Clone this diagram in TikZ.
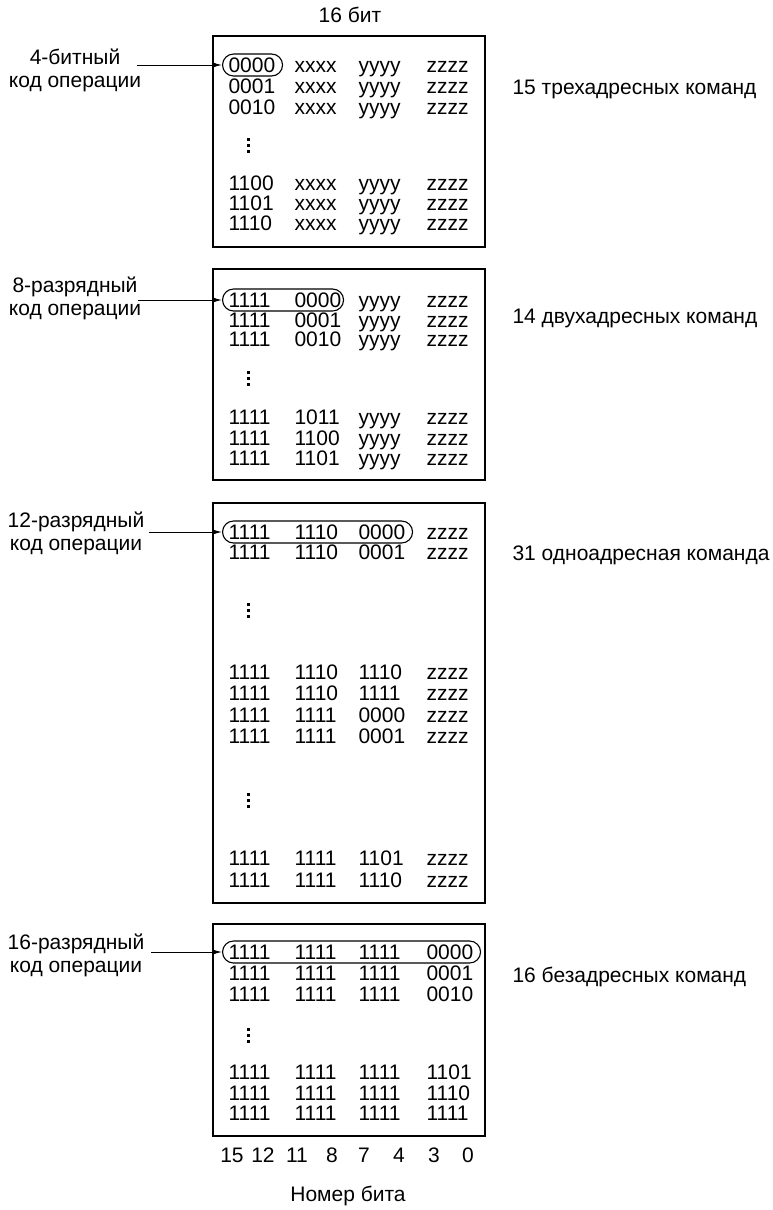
\documentclass[tikz,border=0pt]{standalone}
\usepackage{fontspec}
\setmainfont{Liberation Sans}
\usepackage{tikz}
\usetikzlibrary{arrows.meta}

\begin{document}
\begin{tikzpicture}[x=1pt,y=-1pt,line width=1.1pt,font=\fontsize{21}{23}\selectfont,
  cell/.style={anchor=base west,inner sep=0pt},
  opc/.style={draw,rounded corners=11pt,minimum height=22pt,inner sep=0pt,anchor=west},
  oplabel/.style={align=center,inner sep=0pt},
  cnt/.style={anchor=base west,inner sep=0pt},
  oparrow/.style={-{Latex[length=9pt,width=5pt]},line width=1pt}]
  \useasboundingbox (0,0) rectangle (773,1210);
  \node[anchor=base] (bits) at (350,22.5) {16 бит};
  \draw (213,36) rectangle (485,247);
  \draw (213,269) rectangle (485,480);
  \draw (213,503) rectangle (485,903);
  \draw (213,924) rectangle (485,1136);
  \foreach \y/\a/\b/\c/\d in {65/0000/xxxx/yyyy/zzzz,86/0001/xxxx/yyyy/zzzz,107/0010/xxxx/yyyy/zzzz,
      183/1100/xxxx/yyyy/zzzz,203/1101/xxxx/yyyy/zzzz,223/1110/xxxx/yyyy/zzzz,
      300/1111/0000/yyyy/zzzz,320/1111/0001/yyyy/zzzz,339/1111/0010/yyyy/zzzz,
      417/1111/1011/yyyy/zzzz,438/1111/1100/yyyy/zzzz,458/1111/1101/yyyy/zzzz,
      532/1111/1110/0000/zzzz,552/1111/1110/0001/zzzz,672/1111/1110/1110/zzzz,693/1111/1110/1111/zzzz,
      715/1111/1111/0000/zzzz,736/1111/1111/0001/zzzz,858/1111/1111/1101/zzzz,880/1111/1111/1110/zzzz,
      952/1111/1111/1111/0000,973/1111/1111/1111/0001,994/1111/1111/1111/0010,
      1072/1111/1111/1111/1101,1093/1111/1111/1111/1110,1113/1111/1111/1111/1111} {
    \node[cell] (r\y-1) at (228,\y+7.5) {\a};
    \node[cell] (r\y-2) at (294,\y+7.5) {\b};
    \node[cell] (r\y-3) at (358,\y+7.5) {\c};
    \node[cell] (r\y-4) at (426,\y+7.5) {\d};}
  \foreach \y in {145,378,610,800,1035} {
    \foreach \k in {-6,0,6} \fill (246.5,\y+\k-1.5) rectangle (249.5,\y+\k+1.5);}
  \node[opc,minimum width=60pt] (op1) at (222,65) {};
  \node[opc,minimum width=121pt] (op2) at (222,300) {};
  \node[opc,minimum width=190pt] (op3) at (222,532) {};
  \node[opc,minimum width=258pt] (op4) at (222,952) {};
  \node[oplabel] (lab1) at (75,70) {4-битный\\код операции};
  \node[oplabel] (lab2) at (75,298) {8-разрядный\\код операции};
  \node[oplabel] (lab3) at (76,533) {12-разрядный\\код операции};
  \node[oplabel] (lab4) at (76,955) {16-разрядный\\код операции};
  \coordinate (s1) at (137,65); \coordinate (s2) at (138,300);
  \coordinate (s3) at (149,532); \coordinate (s4) at (151,952);
  \foreach \i in {1,...,4} \draw[oparrow] (s\i) -- (op\i.west);
  \node[cnt] (n3) at (512,94.5) {15 трехадресных команд};
  \node[cnt] (n2) at (512,323.5) {14 двухадресных команд};
  \node[cnt] (n1) at (512,560.5) {31 одноадресная команда};
  \node[cnt] (n0) at (512,982.5) {16 безадресных команд};
  \foreach \x/\t in {232/15,263/12,297/11,332/8,364/7,399/4,434/3,468/0}
    \node[anchor=base] (b\t) at (\x,1162.5) {\t};
  \node[anchor=base] (bitnum) at (348,1201) {Номер бита};
\end{tikzpicture}
\end{document}
